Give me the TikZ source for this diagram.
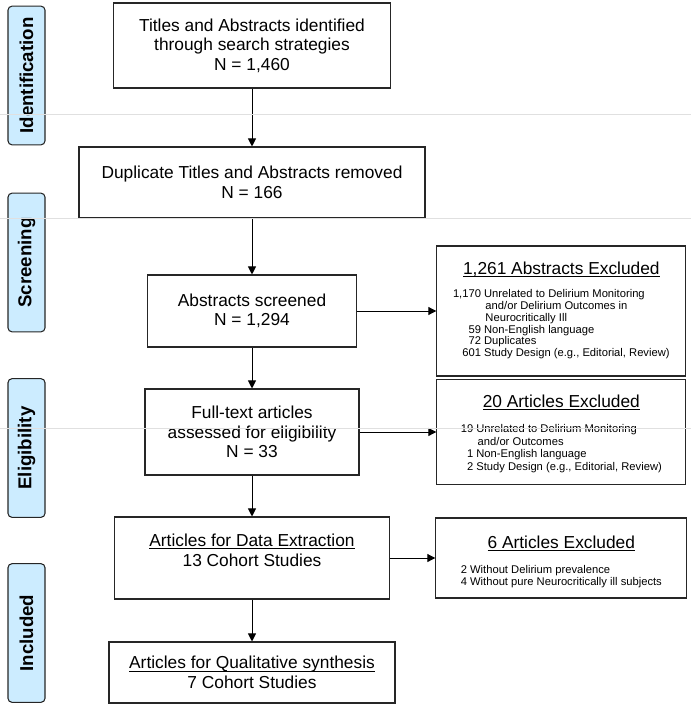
\documentclass[tikz,border=0pt]{standalone}
\usepackage{fontspec}
\setmainfont{Liberation Sans}
\usetikzlibrary{arrows.meta}
\newcommand{\ulin}[1]{\underline{\smash{#1}}\vphantom{#1}}
\definecolor{phaseblue}{RGB}{204,236,255}
\tikzstyle{phase} = [rectangle, rounded corners=3pt, rotate=90, minimum width=104pt, minimum height=27.75pt, inner sep=0pt, text centered, draw=black!85, line width=0.8pt, fill=phaseblue, font=\fontsize{14}{16}\selectfont\bfseries]
\tikzstyle{process} = [rectangle, inner sep=0pt, align=center, draw=black!85, line width=0.8pt, fill=white, font=\fontsize{13}{14.6}\selectfont]
\tikzstyle{excl} = [process, minimum width=186.75pt, right of=#1]
\tikzstyle{arrow} = [line width=0.75pt, ->, >={Triangle[length=6pt,width=6pt]}]
\tikzstyle{guide} = [black!12, line width=0.5pt]

\begin{document}
\begin{tikzpicture}[x=0.75pt, y=-0.75pt, node distance=232pt]
	\useasboundingbox (0,0) rectangle (691,706);
	% main column
	\node (id) [process, minimum width=207.75pt, minimum height=63.75pt] at (252,45.5) {Titles and Abstracts identified\\through search strategies\\N = 1,460};
	\node (dup) [process, minimum width=259.5pt, minimum height=53.25pt] at (252,182.5) {Duplicate Titles and Abstracts removed\\N = 166};
	\node (scr) [process, minimum width=156.75pt, minimum height=54pt] at (252,311) {Abstracts screened\\N = 1,294};
	\node (full) [process, minimum width=160.5pt, minimum height=64.5pt] at (252,432) {Full-text articles\\assessed for eligibility\\N = 33};
	\node (data) [process, minimum width=206.25pt, minimum height=61.5pt, text depth=12pt] at (252,558) {\ulin{Articles for Data Extraction}\\13 Cohort Studies};
	\node (qual) [process, minimum width=214.5pt, minimum height=45.75pt] at (252,672.5) {\ulin{Articles for Qualitative synthesis}\\7 Cohort Studies};

	% exclusions
	\node (ex1) [excl=scr, minimum height=97.5pt] {\ulin{1,261 Abstracts Excluded}\\[8.5pt]
		\fontsize{8.4}{8.8}\selectfont
		\begin{tabular}{@{}r@{ }l@{}}
		1,170 & Unrelated to Delirium Monitoring\\
		 & \hspace{1pt}and/or Delirium Outcomes in\\
		 & \hspace{1pt}Neurocritically Ill\\
		59 & Non-English language\\
		72 & Duplicates\\
		601 & Study Design (e.g., Editorial, Review)
		\end{tabular}};
	\node (ex2) [excl=full, minimum height=78.75pt] {\rule{0pt}{13pt}\ulin{20 Articles Excluded}\\[9.5pt]
		\fontsize{8.4}{9.5}\selectfont
		\begin{tabular}{@{}r@{ }l@{}}
		19 & Unrelated to Delirium Monitoring\\
		 & \hspace{1pt}and/or Outcomes\\
		1 & Non-English language\\
		2 & Study Design (e.g., Editorial, Review)
		\end{tabular}};
	\node (ex3) [excl=data, minimum width=188.25pt, minimum height=60pt] {\rule{0pt}{16.5pt}\ulin{6 Articles Excluded}\\[9pt]
		\fontsize{8.4}{9.5}\selectfont
		\begin{tabular}{@{}l@{}}
		2 Without Delirium prevalence\\
		4 Without pure Neurocritically ill subjects
		\end{tabular}};

	% phases
	\node (sid) [phase] at (26.5,75.5) {Identification};
	\node (sscr) [phase] at (26.5,262.5) {Screening};
	\node (selig) [phase] at (26.5,448) {Eligibility};
	\node (sinc) [phase] at (26.5,633) {Included};

	\draw [arrow] (id) -- (dup);
	\draw [arrow] (dup) -- (scr);
	\draw [arrow] (scr) -- (full);
	\draw [arrow] (full) -- (data);
	\draw [arrow] (data) -- (qual);
	\draw [arrow] (scr) -- (ex1);
	\draw [arrow] (full) -- (ex2);
	\draw [arrow] (data) -- (ex3);

	\draw [guide] (0,114) -- (691,114);
	\draw [guide] (0,218) -- (691,218);
	\draw [guide] (0,428) -- (691,428);
\end{tikzpicture}
\end{document}
